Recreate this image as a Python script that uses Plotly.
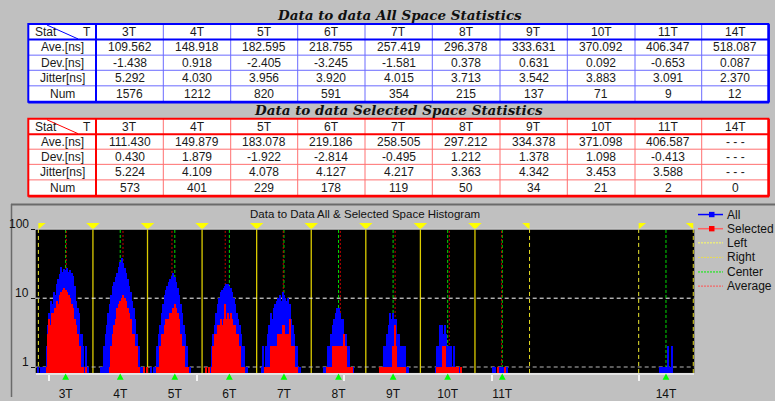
import plotly.graph_objects as go

W, H = 775, 401
def X(px): return px / W
def Y(py): return 1 - py / H

# ---------------- data ----------------
T_LABELS = ['3T', '4T', '5T', '6T', '7T', '8T', '9T', '10T', '11T', '14T']
T_MULT = [3, 4, 5, 6, 7, 8, 9, 10, 11, 14]
T_PERIOD_NS = 37.0
ROW_LABELS = ['Ave.[ns]', 'Dev.[ns]', 'Jitter[ns]', 'Num']
Y_TICKS = [1, 10, 100]

ALL_AVE = [109.562, 148.918, 182.595, 218.755, 257.419, 296.378, 333.631, 370.092, 406.347, 518.087]
ALL_DEV = [-1.438, 0.918, -2.405, -3.245, -1.581, 0.378, 0.631, 0.092, -0.653, 0.087]
ALL_JIT = [5.292, 4.030, 3.956, 3.920, 4.015, 3.713, 3.542, 3.883, 3.091, 2.370]
ALL_NUM = [1576, 1212, 820, 591, 354, 215, 137, 71, 9, 12]

SEL_AVE = [111.430, 149.879, 183.078, 219.186, 258.505, 297.212, 334.378, 371.098, 406.587, None]
SEL_DEV = [0.430, 1.879, -1.922, -2.814, -0.495, 1.212, 1.378, 1.098, -0.413, None]
SEL_JIT = [5.224, 4.109, 4.078, 4.127, 4.217, 3.363, 4.342, 3.453, 3.588, None]
SEL_NUM = [573, 401, 229, 178, 119, 50, 34, 21, 2, 0]

# histogram counts, 1 ns bins, starting at the given ns value
ALL_START = [92, 135, 171, 208, 244, 286, 324, 362, 401, 514]
ALL_3T = [1, 0, 1, 1, 1, 1, 2, 4, 6, 9, 8, 12, 11, 16, 19, 22, 28, 24, 26, 25, 27, 24, 25, 23, 21, 15, 9, 7, 6, 3, 3, 2, 1, 2, 1]
ALL_4T = [1, 1, 2, 3, 4, 6, 8, 11, 15, 17, 20, 23, 28, 33, 38, 32, 27, 23, 19, 15, 12, 9, 7, 5, 3, 2, 2, 1, 1, 1]
ALL_5T = [1, 1, 2, 3, 4, 6, 8, 11, 13, 15, 17, 19, 21, 23, 20, 17, 14, 11, 8, 6, 4, 3, 2, 1, 1]
ALL_6T = [1, 1, 2, 3, 4, 6, 8, 10, 12, 13, 14, 15, 16, 16, 15, 14, 12, 10, 8, 6, 5, 4, 3, 2, 2, 1, 1]
ALL_7T = [1, 2, 1, 2, 3, 4, 6, 5, 7, 8, 9, 10, 11, 9, 12, 11, 10, 9, 10, 8, 5, 4, 3, 2, 2, 1, 1]
ALL_8T = [1, 1, 1, 2, 2, 3, 4, 5, 6, 7, 7, 6, 5, 5, 3, 3, 2, 2, 1, 1, 1]
ALL_9T = [1, 1, 1, 2, 2, 3, 4, 6, 5, 6, 5, 5, 3, 3, 2, 2, 2, 2, 1, 1]
ALL_10T = [1, 2, 2, 4, 4, 3, 4, 3, 2, 2, 2, 1, 2, 1, 1, 1, 1, 1]
ALL_11T = [1, 1, 0, 1, 1, 1, 1, 1, 1, 1]
ALL_14T = [1, 1, 1, 1, 1, 2, 1, 1, 2]

SEL_START = [98, 141, 173, 210, 246, 288, 324, 363, 404]
SEL_3T = [1, 3, 5, 4, 6, 6, 7, 9, 8, 11, 12, 13, 14, 13, 12, 11, 10, 8, 7, 5, 4, 3, 2, 2, 1, 1, 0, 1]
SEL_4T = [1, 2, 3, 4, 5, 7, 8, 9, 10, 11, 10, 9, 7, 6, 5, 3, 3, 2, 2, 1, 1]
SEL_5T = [1, 1, 2, 3, 3, 4, 5, 5, 5, 6, 6, 7, 8, 7, 6, 5, 3, 2, 2, 1, 1, 1]
SEL_6T = [1, 2, 3, 3, 4, 4, 5, 4, 5, 8, 5, 6, 5, 6, 5, 4, 4, 3, 3, 2, 1, 1, 1]
SEL_7T = [1, 1, 1, 1, 2, 2, 2, 2, 2, 3, 3, 3, 4, 4, 3, 3, 3, 5, 2, 2, 2, 1, 1]
SEL_8T = [1, 1, 1, 1, 2, 2, 2, 2, 2, 2, 2, 2, 3, 2, 1, 1, 1, 1]
SEL_9T = [1, 1, 1, 1, 1, 1, 1, 1, 1, 2, 4, 2, 1, 1, 1, 1, 1, 1]
SEL_10T = [1, 1, 1, 1, 2, 2, 1, 1, 1, 1, 1, 1, 1, 1, 1, 0, 1]
SEL_11T = [1, 0, 0, 0, 0, 1]

STRAY_ALL_NS = [164, 166, 169, 206, 208]
STRAY_SEL_NS = [164, 166, 206, 208]

ALL_GROUPS = [ALL_3T, ALL_4T, ALL_5T, ALL_6T, ALL_7T, ALL_8T, ALL_9T, ALL_10T, ALL_11T, ALL_14T]
SEL_GROUPS = [SEL_3T, SEL_4T, SEL_5T, SEL_6T, SEL_7T, SEL_8T, SEL_9T, SEL_10T, SEL_11T]


def expand(starts, groups, stray):
    xs, ys = [], []
    for s, g in zip(starts, groups):
        for i, c in enumerate(g):
            if c > 0:
                xs.append(s + i)
                ys.append(c)
    for v in stray:
        xs.append(v)
        ys.append(1)
    return xs, ys

ax_x, ax_y = expand(ALL_START, ALL_GROUPS, STRAY_ALL_NS)
sl_x, sl_y = expand(SEL_START, SEL_GROUPS, STRAY_SEL_NS)

centers = [m * T_PERIOD_NS for m in T_MULT]

# ---------------- geometry ----------------
PL, PR, PT, PB = 35.7, 694.3, 231.7, 376.7
XR = [90.7, 537.2]
PXNS = (PR - PL) / (XR[1] - XR[0])

shapes = []
annotations = []

def pline(x0, y0, x1, y1, color, width, dash='solid'):
    shapes.append(dict(type='line', xref='paper', yref='paper', x0=X(x0), y0=Y(y0),
                       x1=X(x1), y1=Y(y1), line=dict(color=color, width=width, dash=dash)))

def text(px, py, s, size=12, color='#1a1a1a', xanchor='center', family='Liberation Sans', **kw):
    annotations.append(dict(x=X(px), y=Y(py), xref='paper', yref='paper', text=s, showarrow=False,
                            xanchor=xanchor, yanchor='middle',
                            font=dict(family=family, size=size, color=color, **kw)))

COL_X = [28.3, 96, 163.3, 230.7, 297.7, 365, 432.3, 500, 567.3, 635, 701.7, 768.3]
T1_ROWS = [24.3, 40, 55.7, 71, 86.7, 102.7]
T2_ROWS = [120, 135.7, 150.7, 166, 181.7, 197.7]

def fmt(v, is_int=False):
    if v is None:
        return '- - -'
    return str(v) if is_int else f'{v:.3f}'

def draw_table(rows, outer, inner, data_rows):
    top, bot = rows[0], rows[-1]
    left, right = COL_X[0], COL_X[-1]
    shapes.append(dict(type='rect', xref='paper', yref='paper', x0=X(left), x1=X(right),
                       y0=Y(bot), y1=Y(top), fillcolor='white', line=dict(width=0)))
    for r in rows[2:-1]:
        pline(left, r, right, r, inner, 1)
    for c in COL_X[2:-1]:
        pline(c, top, c, bot, inner, 1)
    pline(left, rows[1], right, rows[1], outer, 2)
    pline(COL_X[1], top, COL_X[1], bot, outer, 2)
    shapes.append(dict(type='rect', xref='paper', yref='paper', x0=X(left), x1=X(right),
                       y0=Y(bot), y1=Y(top), line=dict(color=outer, width=2)))
    pline(left, bot + 0.6, right + 0.8, bot + 0.6, outer, 2.5)
    pline(right + 0.6, top, right + 0.6, bot + 0.6, outer, 2)
    # header diagonal
    pline(47, top + 1, 78, top + 15, outer, 1)
    hy = (rows[0] + rows[1]) / 2
    text(32.5, hy, 'Stat', xanchor='left')
    text(93, hy, 'T', xanchor='right')
    for j, lab in enumerate(T_LABELS):
        text((COL_X[j + 1] + COL_X[j + 2]) / 2, hy, lab)
    for i, (lab, vals, is_int) in enumerate(data_rows):
        cy = (rows[i + 1] + rows[i + 2]) / 2
        text((COL_X[0] + COL_X[1]) / 2, cy, lab)
        for j, v in enumerate(vals):
            text((COL_X[j + 1] + COL_X[j + 2]) / 2, cy, fmt(v, is_int))

title_font = dict(family='DejaVu Serif', size=13.5, color='#101010', weight='bold', style='italic')
annotations.append(dict(x=X(399), y=Y(15.5), xref='paper', yref='paper', showarrow=False,
                        xanchor='center', yanchor='middle',
                        text='Data to data All Space Statistics', font=title_font))
annotations.append(dict(x=X(398), y=Y(111), xref='paper', yref='paper', showarrow=False,
                        xanchor='center', yanchor='middle',
                        text='Data to data Selected Space Statistics', font=title_font))

draw_table(T1_ROWS, '#0000ff', '#6a6aff',
           [(ROW_LABELS[0], ALL_AVE, False), (ROW_LABELS[1], ALL_DEV, False),
            (ROW_LABELS[2], ALL_JIT, False), (ROW_LABELS[3], ALL_NUM, True)])
draw_table(T2_ROWS, '#ff0000', '#ff7070',
           [(ROW_LABELS[0], SEL_AVE, False), (ROW_LABELS[1], SEL_DEV, False),
            (ROW_LABELS[2], SEL_JIT, False), (ROW_LABELS[3], SEL_NUM, True)])

# histogram panel frame
pline(11, 206.5, 775, 206.5, '#6a6a6a', 2)
pline(11.5, 206, 11.5, 401, '#6a6a6a', 1.5)
text(364.7, 216, 'Data to Data All & Selected Space Histogram', size=11.5, color='#111111')

# window boundaries
left_edges = [m - 0.5 for m in T_MULT]
right_edges = [m + 0.5 for m in T_MULT]
edges = sorted(set(left_edges) | set(right_edges))
for e in edges:
    ens = e * T_PERIOD_NS
    both = e in left_edges and e in right_edges
    if both:
        ln = dict(color='#dccc00', width=1.3)
    elif e in left_edges:
        ln = dict(color='#f0ec30', width=1, dash='4px,3px')
    else:
        ln = dict(color='#e6dc20', width=1, dash='4px,3px')
    shapes.append(dict(type='line', xref='x', yref='y domain', x0=ens, x1=ens, y0=0, y1=1,
                       line=ln, layer='below'))
    w = 6.7 / PXNS
    ty, tb = Y(225.3), Y(PT)
    if both:
        path = f'M {ens - w},{ty} L {ens + w},{ty} L {ens},{tb} Z'
    elif e in left_edges:
        path = f'M {ens},{ty} L {ens + w * 1.1},{ty} L {ens},{tb} Z'
    else:
        path = f'M {ens - w * 1.1},{ty} L {ens},{ty} L {ens},{tb} Z'
    shapes.append(dict(type='path', xref='x', yref='paper', path=path,
                       fillcolor='#ffff00', line=dict(width=0)))

# horizontal grid lines at 10 and 1
shapes.append(dict(type='line', xref='x domain', yref='y', x0=0, x1=1, y0=10, y1=10,
                   line=dict(color='#ffffff', width=1, dash='4px,3px'), layer='below'))
shapes.append(dict(type='line', xref='x domain', yref='y', x0=0, x1=1, y0=1, y1=1,
                   line=dict(color='#b8b8b8', width=1, dash='4px,3px'), layer='below'))

# center lines and average lines
for c in centers:
    shapes.append(dict(type='line', xref='x', yref='y domain', x0=c, x1=c, y0=0, y1=1,
                       line=dict(color='#00dd00', width=1, dash='3px,2px'), layer='below'))
for a in SEL_AVE:
    if a is not None:
        shapes.append(dict(type='line', xref='x', yref='y domain', x0=a, x1=a, y0=0, y1=1,
                           line=dict(color='#cc0000', width=1, dash='2px,2px'), layer='below'))

# top border of plot
pline(PL, PT - 0.3, PR, PT - 0.3, '#d0d0d0', 1)

# green triangles at centers
for c in centers:
    w = 3.4 / PXNS
    path = f'M {c - w},{Y(383.5)} L {c + w},{Y(383.5)} L {c},{Y(377.3)} Z'
    shapes.append(dict(type='path', xref='x', yref='paper', path=path,
                       fillcolor='#00ff00', line=dict(width=0)))

# y tick labels (sit just above their tick marks)
for v in Y_TICKS:
    annotations.append(dict(x=X(31.5), y=len(str(v)) - 1, xref='paper', yref='y',
                            text=str(v), showarrow=False, xanchor='right', yanchor='middle',
                            yshift=5.5,
                            font=dict(family='Liberation Sans', size=12, color='#111111')))

# legend (drawn manually)
LEG_Y = [216.7, 231, 245.3, 260, 274.7, 289]
LEG_NAMES = ['All', 'Selected', 'Left', 'Right', 'Center', 'Average']
leg_styles = [
    dict(color='#0000ff', width=1.5),
    dict(color='#ff6060', width=1.5),
    dict(color='#ffff60', width=1, dash='2px,1px'),
    dict(color='#e8dc50', width=1, dash='2px,1px'),
    dict(color='#00ee00', width=1, dash='2px,1px'),
    dict(color='#ff5050', width=1, dash='2px,1px'),
]
for yy, nm, st in zip(LEG_Y, LEG_NAMES, leg_styles):
    shapes.append(dict(type='line', xref='paper', yref='paper', x0=X(698), x1=X(723),
                       y0=Y(yy), y1=Y(yy), line=st))
    text(725, yy, nm, size=12, color='#111111', xanchor='left')
for yy, col in [(LEG_Y[0], '#0000ff'), (LEG_Y[1], '#ff0000')]:
    shapes.append(dict(type='rect', xref='paper', yref='paper', x0=X(709), x1=X(714.5),
                       y0=Y(yy + 2.7), y1=Y(yy - 2.7), fillcolor=col, line=dict(width=0)))

fig = go.Figure()
fig.add_trace(go.Bar(x=ax_x, y=ax_y, width=1.0, marker=dict(color='#0000ff', line=dict(width=0)),
                     name='All', showlegend=False))
fig.add_trace(go.Bar(x=sl_x, y=sl_y, width=1.0, marker=dict(color='#ff0000', line=dict(width=0)),
                     name='Selected', showlegend=False))

fig.update_layout(
    width=W, height=H, autosize=False,
    margin=dict(l=0, r=0, t=0, b=0),
    paper_bgcolor='#c0c0c0', plot_bgcolor='#000000',
    barmode='overlay', bargap=0,
    shapes=shapes, annotations=annotations,
    xaxis=dict(domain=[X(PL), X(PR)], range=XR, showgrid=False, zeroline=False,
               tickvals=centers, ticktext=T_LABELS, ticks='',
               tickfont=dict(family='Liberation Sans', size=12, color='#111111'),
               ticklabelstandoff=9,
               showline=True, linecolor='#e4e4e4', linewidth=2,
               minor=dict(tickvals=[100, 200, 300, 400, 500], ticks='outside', ticklen=6,
                          tickcolor='#f4f4f4', tickwidth=1.5)),
    yaxis=dict(domain=[Y(PB), Y(PT)], type='log', range=[-0.0863, 2.0], showgrid=False,
               zeroline=False, tickvals=Y_TICKS, showticklabels=False,
               ticks='outside', ticklen=4, tickcolor='#111111', tickwidth=1),
)

fig.write_html('out.html', config={'displayModeBar': False},
               post_script="document.body.style.margin='0px';document.body.style.padding='0px';")
